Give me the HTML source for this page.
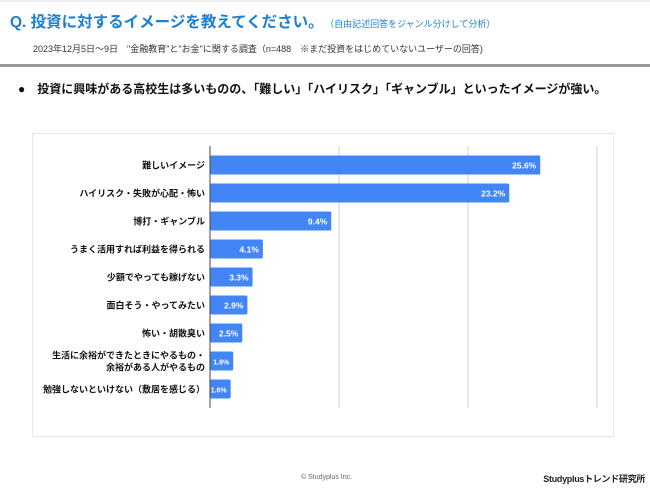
<!DOCTYPE html>
<html><head><meta charset="utf-8"><style>
body{margin:0;width:650px;height:488px;background:#fff;overflow:hidden;font-family:"Liberation Sans","Noto Sans CJK JP",sans-serif;position:relative}
.abs{position:absolute;white-space:nowrap}
</style></head><body>
<div class="abs" style="left:0;top:0;width:650px;height:2px;background:#eee"></div>
<div class="abs" style="left:10px;top:10px;font-size:15.5px;font-weight:bold;color:#1b7fd4">Q. 投資に対するイメージを教えてください。<span style="font-size:9px;font-weight:normal;margin-left:6px">（自由記述回答をジャンル分けして分析）</span></div>
<div class="abs" style="left:33px;top:42px;font-size:9px;color:#333">2023年12月5日～9日　"金融教育"と"お金"に関する調査（n=488　※まだ投資をはじめていないユーザーの回答)</div>
<div class="abs" style="left:0;top:64px;width:650px;height:3px;background:#999"></div>
<div class="abs" style="left:18px;top:80px;font-size:12px;font-weight:bold;color:#111">●　投資に興味がある高校生は多いものの、「難しい」「ハイリスク」「ギャンブル」といったイメージが強い。</div>
<div class="abs" style="left:32px;top:133px;width:582px;height:304px;border:1px solid #e6e6e6;box-sizing:border-box"></div>
<svg class="abs" style="left:0;top:0" width="650" height="488"></svg>
<div class="abs" style="left:301px;top:474px;font-size:7px;color:#666">© Studyplus Inc.</div>
<div class="abs" style="right:5px;top:472px;font-size:9px;letter-spacing:-0.3px;font-weight:bold;color:#222">Studyplusトレンド研究所</div>
<script>
const categories=["難しいイメージ","ハイリスク・失敗が心配・怖い","博打・ギャンブル","うまく活用すれば利益を得られる","少額でやっても稼げない","面白そう・やってみたい","怖い・胡散臭い","生活に余裕ができたときにやるもの・|余裕がある人がやるもの","勉強しないといけない（敷居を感じる）"];
const values=[25.6,23.2,9.4,4.1,3.3,2.9,2.5,1.8,1.6];
const gridTicks=[10,20,30];
const svg=document.querySelector('svg');
const NS='http://www.w3.org/2000/svg';
const x0=210,pxPer=12.9,yTop=146,yBot=408,y0=165,step=28,bh=19;
const xs=v=>x0+v*pxPer;
function mk(t,a){const e=document.createElementNS(NS,t);for(const k in a)e.setAttribute(k,a[k]);svg.appendChild(e);return e;}
gridTicks.forEach(t=>{
 const l=mk('line',{x1:xs(t),x2:xs(t),y1:yTop,y2:yBot,stroke:'#d0d0d0','stroke-width':1});
 
 
});
values.forEach((v,i)=>{
 const cy=y0+i*step;
 const r=mk('rect',{x:x0,y:cy-bh/2,width:xs(v)-x0,height:bh,fill:'#4285f4',rx:1.5});
 
 
 const small=v<2;
 const tv=mk('text',{x:xs(v)-4,y:cy+3.5,'text-anchor':'end','font-size':small?7:8.5,'font-weight':'bold',fill:'#fff'});
 tv.textContent=v.toFixed(1)+'%';
 
 
 const lines=categories[i].split('|');
 lines.forEach((s,j)=>{
  const t=mk('text',{x:205,y:cy+3.5+(j-(lines.length-1)/2)*12,'text-anchor':'end','font-size':9,'font-weight':'bold',fill:'#111'});
  t.textContent=s;
  
  
 });
});
const ax=mk('line',{x1:x0,x2:x0,y1:yTop,y2:yBot,stroke:'#444','stroke-width':1});


</script>
</body></html>
